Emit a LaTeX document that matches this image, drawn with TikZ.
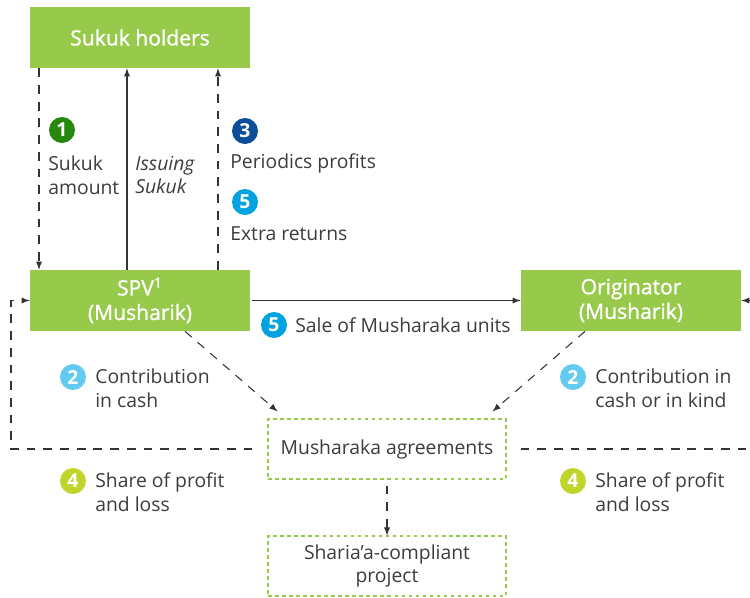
\documentclass[tikz,border=0pt]{standalone}
\usepackage{fontspec}
\setmainfont{Open Sans}
\newfontfamily\boxfont[FakeBold=1.2]{Open Sans}
\usetikzlibrary{arrows}

\definecolor{boxgreen}{HTML}{97C94A}
\definecolor{linegray}{HTML}{333333}
\definecolor{textgray}{HTML}{3C3C3C}
\definecolor{onegreen}{HTML}{26890D}
\definecolor{threeblue}{HTML}{0D4E9B}
\definecolor{fivecyan}{HTML}{00A3E0}
\definecolor{twoblue}{HTML}{62CBEF}
\definecolor{fourlime}{HTML}{C0D42C}

\tikzset{
  party/.style={rectangle, fill=boxgreen, text=white, font=\fontsize{12}{14}\selectfont\boxfont,
    minimum width=4.4cm, minimum height=1.22cm, align=center, inner sep=0pt},
  deal/.style={rectangle, draw=boxgreen, dash pattern=on 2pt off 2pt, line width=0.6pt,
    text=textgray, minimum width=4.76cm, minimum height=1.2cm, align=center, inner sep=0pt},
  num/.style={circle, fill=#1, text=white, font=\fontsize{11}{13}\selectfont\bfseries,
    minimum size=0.52cm, inner sep=0pt},
  lbl/.style={anchor=west, align=left, text=textgray, inner sep=0pt},
  flow/.style={draw=linegray, line width=0.6pt, -latex},
  dashflow/.style={flow, dash pattern=on 5pt off 4.5pt}
}

\begin{document}
\begin{tikzpicture}[font=\fontsize{11}{13.4}\selectfont]
            \useasboundingbox (0,0) rectangle (15,-11.94);
            \clip (0,0) rectangle (15,-11.94);
            \node [party] (holders) at (2.8,-0.75) {Sukuk holders};
            \node [party] (spv) at (2.8,-6.01) {SPV\textsuperscript{1}\\(Musharik)};
            \node [party] (orig) at (12.62,-6.01) {Originator\\(Musharik)};
            \node [deal] (agree) at (7.74,-8.98) {Musharaka agreements};
            \node [deal] (project) at (7.74,-11.32) {Sharia'a-compliant\\project};
            \coordinate (lft) at (0.22,0);
            \coordinate (rgt) at (15.4,0);
            \path [dashflow] ([xshift=-2.02cm]holders.south) -- ([xshift=-2.02cm]spv.north);
            \path [flow] ([xshift=-0.26cm]spv.north) -- ([xshift=-0.26cm]holders.south);
            \path [dashflow] ([xshift=1.56cm]spv.north) -- ([xshift=1.56cm]holders.south);
            \path [flow] ([xshift=0.04cm]spv.east) -- (orig.west);
            \path [dashflow] ([xshift=0.9cm]spv.south) -- ([shift={(0.2,0.14)}]agree.north west);
            \path [dashflow] ([xshift=-0.92cm]orig.south) -- ([shift={(-0.28,0.14)}]agree.north east);
            \path [dashflow] ([yshift=-0.12cm]agree.south) -- (project.north);
            \path [dashflow] ([xshift=-0.3cm]agree.west) -- (agree.west -| lft) |- (spv.west);
            \path [dashflow] ([xshift=0.28cm]agree.east) -- (agree.east -| rgt) |- (orig.east);
            \node [num=onegreen] (n1) at (1.24,-2.6) {1};
            \node [lbl] (t1) at (0.96,-3.5) {Sukuk\\amount};
            \node [lbl, font=\fontsize{11}{13.4}\selectfont\itshape] (tissue) at (2.7,-3.5) {Issuing\\Sukuk};
            \node [num=threeblue] (n3) at (4.9,-2.62) {3};
            \node [lbl] (t3) at (4.6,-3.26) {Periodics profits};
            \node [num=fivecyan] (n5a) at (4.9,-4.04) {5};
            \node [lbl] (t5a) at (4.6,-4.68) {Extra returns};
            \node [num=fivecyan] (n5b) at (5.48,-6.5) {5};
            \node [lbl] (t5b) at (5.9,-6.5) {Sale of Musharaka units};
            \node [num=twoblue] (n2a) at (1.46,-7.54) {2};
            \node [lbl] (t2a) at (1.9,-7.76) {Contribution\\in cash};
            \node [num=twoblue] (n2b) at (11.46,-7.54) {2};
            \node [lbl] (t2b) at (11.9,-7.76) {Contribution in\\cash or in kind};
            \node [num=fourlime] (n4a) at (1.46,-9.62) {4};
            \node [lbl] (t4a) at (1.9,-9.84) {Share of profit\\and loss};
            \node [num=fourlime] (n4b) at (11.46,-9.62) {4};
            \node [lbl] (t4b) at (11.9,-9.84) {Share of profit\\and loss};
        \end{tikzpicture}
\end{document}
